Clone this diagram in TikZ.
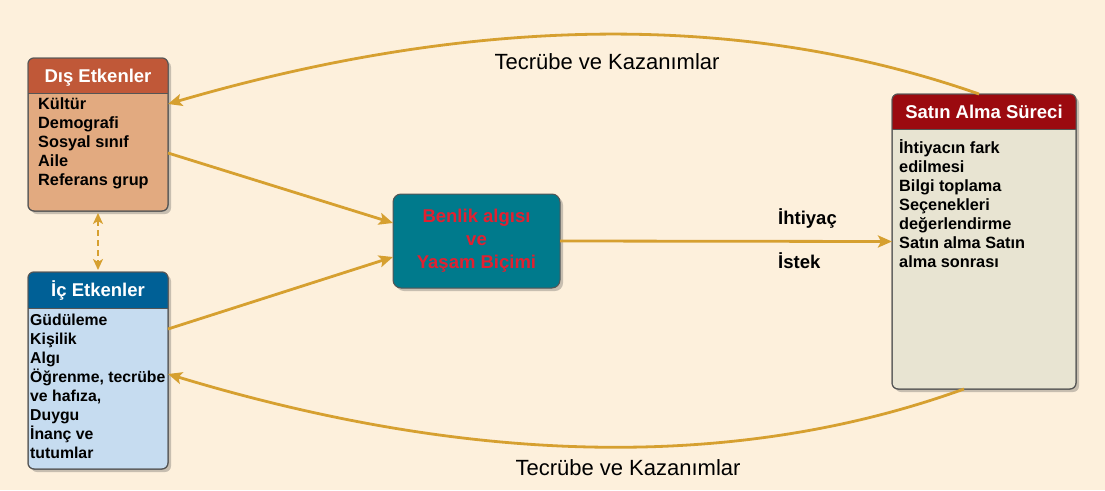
\documentclass[tikz,border=0pt]{standalone}
\usepackage{fontspec}
\setmainfont{Liberation Sans}
\usetikzlibrary{arrows.meta,shadows}
\definecolor{bg}{RGB}{253,240,220}
\definecolor{gold}{RGB}{214,160,48}
\definecolor{dishdr}{RGB}{192,88,56}
\definecolor{disbody}{RGB}{226,170,128}
\definecolor{ichdr}{RGB}{0,96,150}
\definecolor{icbody}{RGB}{198,220,240}
\definecolor{benfill}{RGB}{0,122,140}
\definecolor{bentext}{RGB}{226,32,48}
\definecolor{sathdr}{RGB}{155,10,15}
\definecolor{satbody}{RGB}{232,228,210}
\definecolor{frame}{RGB}{85,85,85}
\tikzset{
 box/.style={draw=frame, line width=1pt, rounded corners=6pt, inner sep=0pt, outer sep=0pt,
   drop shadow={shadow xshift=3pt,shadow yshift=-3pt,opacity=0.3,fill=black!70}},
 frameline/.style={draw=frame, line width=1pt},
 hdrtext/.style={text=white, font=\bfseries\fontsize{18.5}{22}\selectfont, inner sep=0pt, text height=13.2pt, text depth=0pt},
 bodytext/.style={anchor=north west, inner sep=0pt, align=left, font=\bfseries\fontsize{16.3}{19}\selectfont},
 conn/.style={draw=gold, line width=2.8pt, -{Stealth[length=14pt,width=12pt,inset=3pt]}},
 dconn/.style={draw=gold, line width=2.8pt, dash pattern=on 6pt off 4pt,
   {Stealth[length=11pt,width=10pt,inset=3pt]}-{Stealth[length=11pt,width=10pt,inset=3pt]}},
 lbl/.style={font=\fontsize{22}{24}\selectfont, inner sep=0pt, text height=15.6pt, text depth=0pt},
 tag/.style={font=\bfseries\fontsize{18.5}{22}\selectfont, inner sep=0pt, text height=13.2pt, text depth=0pt, anchor=west},
}
\begin{document}
\begin{tikzpicture}[x=1pt,y=-1pt]
\fill[bg] (0,0) rectangle (1105,490);
\useasboundingbox (0,0) rectangle (1105,490);

% Dis Etkenler
\node[box, fill=disbody, minimum width=140pt, minimum height=153pt] (dis) at (98,134.5) {};
\begin{scope}
\clip[rounded corners=6pt] (dis.north west) rectangle (dis.south east);
\fill[dishdr] (dis.north west) rectangle ([yshift=-35pt]dis.north east);
\end{scope}
\draw[frameline] ([yshift=-35pt]dis.north west) -- ([yshift=-35pt]dis.north east);
\draw[frameline, rounded corners=6pt] (dis.north west) rectangle (dis.south east);
\node[hdrtext] (dist) at ([yshift=-17.5pt]dis.north) {Dış Etkenler};
\node[bodytext] (disb) at ([xshift=10pt,yshift=-35.8pt]dis.north west)
 {\rule{0pt}{15.5pt}Kültür\\Demografi\\Sosyal sınıf\\Aile\\Referans grup};

% Ic Etkenler
\node[box, fill=icbody, minimum width=140pt, minimum height=197pt] (ic) at (98,370.5) {};
\begin{scope}
\clip[rounded corners=6pt] (ic.north west) rectangle (ic.south east);
\fill[ichdr] (ic.north west) rectangle ([yshift=-36pt]ic.north east);
\end{scope}
\draw[frameline] ([yshift=-36pt]ic.north west) -- ([yshift=-36pt]ic.north east);
\draw[frameline, rounded corners=6pt] (ic.north west) rectangle (ic.south east);
\node[hdrtext] (ict) at ([yshift=-18pt]ic.north) {İç Etkenler};
\node[bodytext, font=\bfseries\fontsize{15.8}{19}\selectfont] (icb) at ([xshift=2pt,yshift=-37.5pt]ic.north west)
 {\rule{0pt}{15.5pt}Güdüleme\\Kişilik\\Algı\\Öğrenme, tecrübe\\ve hafıza,\\Duygu\\İnanç ve\\tutumlar};

% Satin Alma Sureci
\node[box, fill=satbody, minimum width=184pt, minimum height=295pt] (sat) at (984,241.5) {};
\begin{scope}
\clip[rounded corners=6pt] (sat.north west) rectangle (sat.south east);
\fill[sathdr] (sat.north west) rectangle ([yshift=-35pt]sat.north east);
\end{scope}
\draw[frameline] ([yshift=-35pt]sat.north west) -- ([yshift=-35pt]sat.north east);
\draw[frameline, rounded corners=6pt] (sat.north west) rectangle (sat.south east);
\node[hdrtext] (satt) at ([yshift=-17.5pt]sat.north) {Satın Alma Süreci};
\node[bodytext] (satb) at ([xshift=7pt,yshift=-43.5pt]sat.north west)
 {\rule{0pt}{15.5pt}İhtiyacın fark\\edilmesi\\Bilgi toplama\\Seçenekleri\\değerlendirme\\Satın alma Satın\\alma sonrası};

% Benlik
\node[box, rounded corners=8pt, fill=benfill, minimum width=167pt, minimum height=94pt,
  text=bentext, font=\bfseries\fontsize{18.5}{23}\selectfont, align=center] (ben) at (476.5,241)
  {Benlik algısı\\ve\\Yaşam Biçimi};

% connectors
\draw[conn] ([yshift=-18.5pt]dis.east) -- ([yshift=18pt]ben.west);
\draw[conn] ([yshift=41.5pt]ic.east) -- ([yshift=-16pt]ben.west);
\draw[conn] (ben.east) -- (sat.west);
\draw[conn] ([xshift=-5pt]sat.north) .. controls (742,11) and (473,15) .. ([yshift=30.5pt]dis.east);
\draw[conn] ([xshift=-20pt]sat.south) .. controls (737,471) and (472,466) .. ([yshift=-3.5pt]ic.east);
\draw[dconn] ([yshift=-2pt]dis.south) -- ([yshift=2pt]ic.north);

% labels
\node[tag] (iht) at (778,218) {İhtiyaç};
\node[tag] (ist) at (778,262) {İstek};
\node[lbl] (tk1) at (607,62) {Tecrübe ve Kazanımlar};
\node[lbl] (tk2) at (628,468) {Tecrübe ve Kazanımlar};
\end{tikzpicture}
\end{document}
